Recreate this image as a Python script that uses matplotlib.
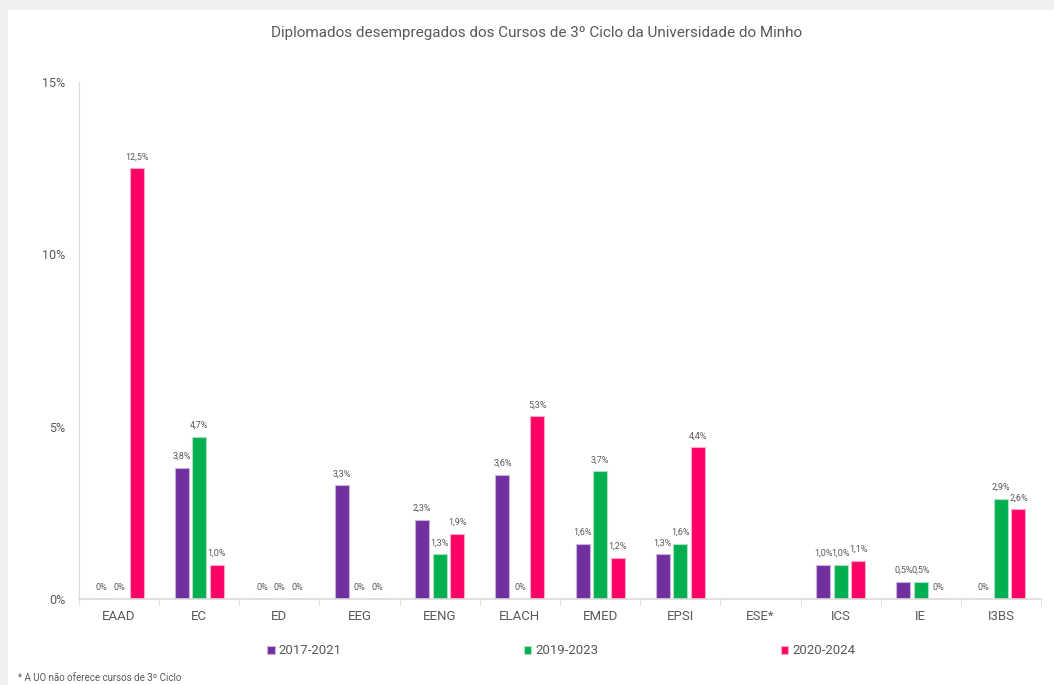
"""
Diplomados desempregados dos Cursos de 3.o Ciclo da Universidade do Minho.
Grouped bars per unit, three cohorts.
"""
import numpy as np
import matplotlib.pyplot as plt
from matplotlib.patches import Rectangle

plt.rcParams["font.family"] = ["Roboto", "DejaVu Sans"]

# Data (percent); nan = no 3rd cycle courses
categories = ["EAAD", "EC", "ED", "EEG", "EENG", "ELACH",
              "EMED", "EPSI", "ESE*", "ICS", "IE", "I3BS"]
s2017 = [0, 3.8, 0, 3.3, 2.3, 3.6, 1.6, 1.3, np.nan, 1.0, 0.5, 0]
s2019 = [0, 4.7, 0, 0, 1.3, 0, 3.7, 1.6, np.nan, 1.0, 0.5, 2.9]
s2020 = [12.5, 1.0, 0, 0, 1.9, 5.3, 1.2, 4.4, np.nan, 1.1, 0, 2.6]
series_names = ["2017-2021", "2019-2023", "2020-2024"]
colors = ["#7030A0", "#00B050", "#FF0066"]
edges = ["#C9B3DC", "#A9E0BF", "#FFA8C8"]
yticks = [0, 5, 10, 15]

text_grey = "#595959"
axis_grey = "#D9D9D9"

fig = plt.figure(figsize=(10.54, 6.85), dpi=100, facecolor="#EFEFEF")
# white panel like the screenshot
fig.patches.append(Rectangle((8 / 1054, 0), 1, 1 - 10 / 685,
                             transform=fig.transFigure, facecolor="white",
                             edgecolor="none", zorder=-5))

ax = fig.add_axes([79 / 1054, 86 / 685, 962 / 1054, 517 / 685])
ax.set_facecolor("none")

x = np.arange(len(categories))
offset = 0.218
width = 0.176
for i, (vals, name) in enumerate(zip([s2017, s2019, s2020], series_names)):
    pos = x + (i - 1) * offset
    ax.bar(pos, vals, width, color=colors[i], edgecolor=edges[i],
           linewidth=0.8, label=name, zorder=2)
    for p, v in zip(pos, vals):
        if np.isnan(v):
            continue
        lab = "0%" if v == 0 else f"{v:.1f}%".replace(".", ",")
        ax.annotate(lab, (p, v), xytext=(0, 5), textcoords="offset points",
                    ha="center", va="bottom", fontsize=6.5, color=text_grey)

ax.set_xlim(-0.5, len(categories) - 0.5)
ax.set_ylim(0, 15)
ax.set_yticks(yticks)
ax.set_yticklabels([f"{t}%" for t in yticks])
ax.set_xticks(x)
ax.set_xticklabels(categories)
ax.set_xticks(np.arange(len(categories) + 1) - 0.5, minor=True)
ax.tick_params(axis="x", which="major", length=0, pad=8, labelsize=9.5,
               labelcolor=text_grey)
ax.tick_params(axis="x", which="minor", length=4, color=axis_grey)
ax.tick_params(axis="y", length=0, pad=10, labelsize=9, labelcolor=text_grey)

for side in ["top", "right"]:
    ax.spines[side].set_visible(False)
ax.spines["left"].set_color(axis_grey)
ax.spines["bottom"].set_color(axis_grey)
ax.spines["bottom"].set_linewidth(1.2)

fig.text(537 / 1054, 1 - 33 / 685,
         "Diplomados desempregados dos Cursos de 3º Ciclo da Universidade do Minho",
         ha="center", va="center", fontsize=11, color=text_grey)

ax.legend(loc="center", bbox_to_anchor=(561 / 1054, 1 - 651 / 685),
          bbox_transform=fig.transFigure, ncol=3, frameon=False,
          fontsize=9.5, handlelength=0.6, handleheight=0.6,
          handletextpad=0.3, columnspacing=13.8, labelcolor=text_grey)

fig.text(18 / 1054, 1 - 678 / 685, "* A UO não oferece cursos de 3º Ciclo",
         ha="left", va="center", fontsize=7, color=text_grey)

fig.savefig("out.png", dpi=100, facecolor=fig.get_facecolor())
